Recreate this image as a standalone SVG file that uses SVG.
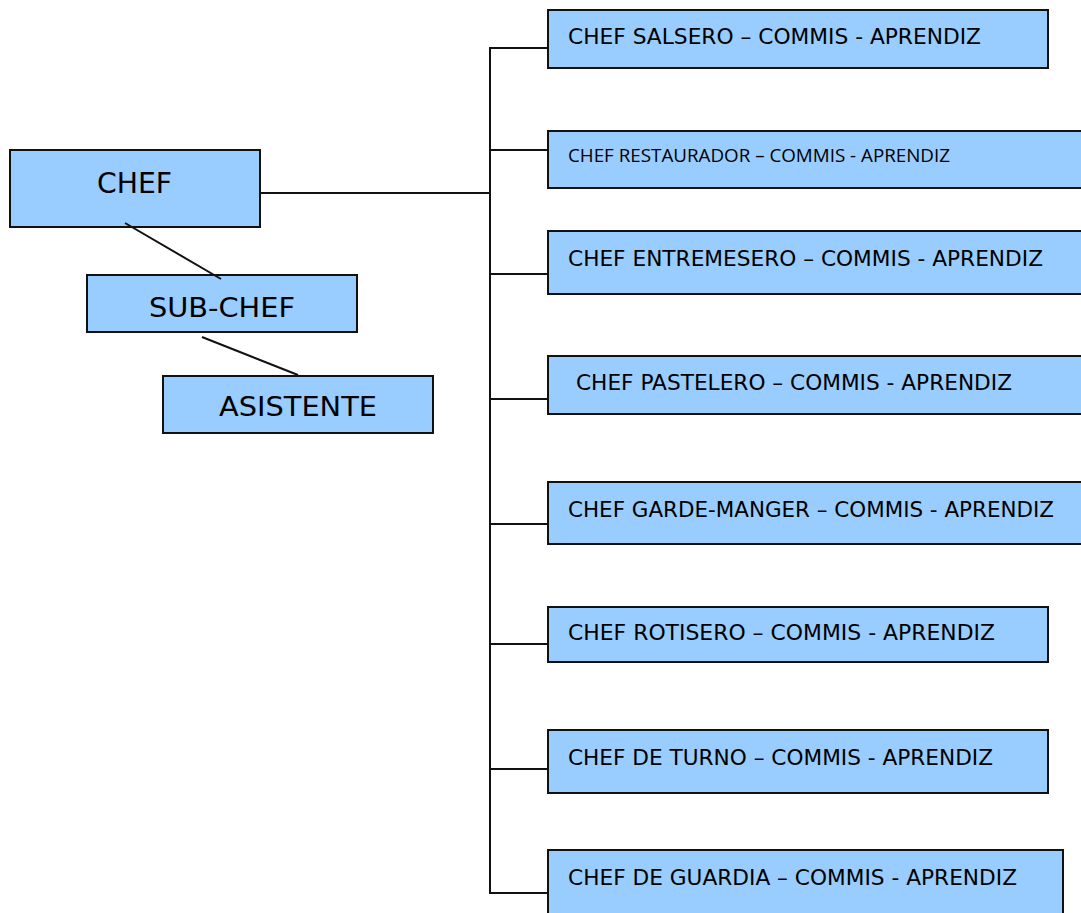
<svg xmlns="http://www.w3.org/2000/svg" width="1081" height="913" viewBox="0 0 1081 913">
<style>
.box{fill:#99CCFF;stroke:#111;stroke-width:2}
.t{font-family:"DejaVu Sans","Liberation Sans",sans-serif;fill:#000}
.s{font-size:22px}
.c{font-family:"Open Sans","Liberation Sans",sans-serif;font-size:18px;fill:#000}
.ln{stroke:#111;stroke-width:2;fill:none}
</style>
<rect width="1081" height="913" fill="#fff"/>
<g id="chef">
<rect class="box" x="10" y="150" width="250" height="77"/>
<text class="t" x="97" y="193" font-size="29" textLength="75" lengthAdjust="spacingAndGlyphs">CHEF</text>
</g>
<g id="subchef">
<rect class="box" x="87" y="275" width="270" height="57"/>
<text class="t" x="149" y="317" font-size="27" textLength="146" lengthAdjust="spacingAndGlyphs">SUB-CHEF</text>
</g>
<g id="asistente">
<rect class="box" x="163" y="376" width="270" height="57"/>
<text class="t" x="219" y="416" font-size="27" textLength="158" lengthAdjust="spacingAndGlyphs">ASISTENTE</text>
</g>
<g id="salsero">
<rect class="box" x="548" y="10" width="500" height="58"/>
<text class="t s" x="568" y="44" textLength="413" lengthAdjust="spacingAndGlyphs">CHEF SALSERO – COMMIS - APRENDIZ</text>
</g>
<g id="restaurador">
<rect class="box" x="548" y="131" width="540" height="57"/>
<text class="c" x="568" y="162" textLength="382" lengthAdjust="spacingAndGlyphs">CHEF RESTAURADOR – COMMIS - APRENDIZ</text>
</g>
<g id="entremesero">
<rect class="box" x="548" y="231" width="540" height="63"/>
<text class="t s" x="568" y="266" textLength="475" lengthAdjust="spacingAndGlyphs">CHEF ENTREMESERO – COMMIS - APRENDIZ</text>
</g>
<g id="pastelero">
<rect class="box" x="548" y="356" width="540" height="58"/>
<text class="t s" x="576" y="390" textLength="436" lengthAdjust="spacingAndGlyphs">CHEF PASTELERO – COMMIS - APRENDIZ</text>
</g>
<g id="gardemanger">
<rect class="box" x="548" y="482" width="540" height="62"/>
<text class="t s" x="568" y="517" textLength="486" lengthAdjust="spacingAndGlyphs">CHEF GARDE-MANGER – COMMIS - APRENDIZ</text>
</g>
<g id="rotisero">
<rect class="box" x="548" y="607" width="500" height="55"/>
<text class="t s" x="568" y="640" textLength="427" lengthAdjust="spacingAndGlyphs">CHEF ROTISERO – COMMIS - APRENDIZ</text>
</g>
<g id="turno">
<rect class="box" x="548" y="730" width="500" height="63"/>
<text class="t s" x="568" y="765" textLength="425" lengthAdjust="spacingAndGlyphs">CHEF DE TURNO – COMMIS - APRENDIZ</text>
</g>
<g id="guardia">
<rect class="box" x="548" y="850" width="515" height="70"/>
<text class="t s" x="568" y="885" textLength="449" lengthAdjust="spacingAndGlyphs">CHEF DE GUARDIA – COMMIS - APRENDIZ</text>
</g>
<g id="connectors">
<line class="ln" x1="261" y1="193" x2="490" y2="193"/>
<line class="ln" x1="490" y1="48" x2="490" y2="894"/>
<line class="ln" x1="489" y1="48" x2="547" y2="48"/>
<line class="ln" x1="490" y1="150" x2="547" y2="150"/>
<line class="ln" x1="490" y1="274" x2="547" y2="274"/>
<line class="ln" x1="490" y1="399" x2="547" y2="399"/>
<line class="ln" x1="490" y1="524" x2="547" y2="524"/>
<line class="ln" x1="490" y1="644" x2="547" y2="644"/>
<line class="ln" x1="490" y1="769" x2="547" y2="769"/>
<line class="ln" x1="489" y1="893" x2="547" y2="893"/>
<line class="ln" x1="125" y1="223" x2="221" y2="279"/>
<line class="ln" x1="202" y1="337" x2="298" y2="375"/>
</g>
</svg>
